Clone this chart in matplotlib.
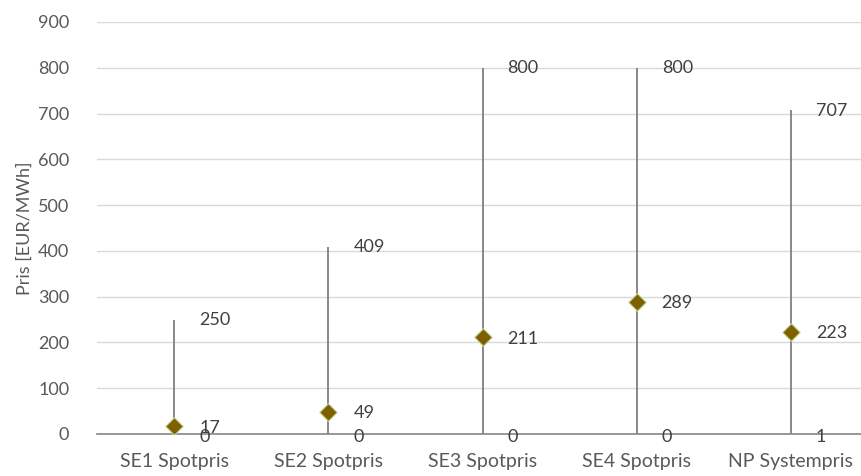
import matplotlib.pyplot as plt
import numpy as np

categories = ["SE1 Spotpris", "SE2 Spotpris", "SE3 Spotpris", "SE4 Spotpris", "NP Systempris"]
high = [250, 409, 800, 800, 707]
low = [0, 0, 0, 0, 1]
close = [17, 49, 211, 289, 223]

TEXT = "#595959"
LABEL = "#404040"
plt.rcParams["font.family"] = ["Lato", "DejaVu Sans"]


def main() -> None:
    fig = plt.figure(figsize=(8.61, 4.76), dpi=100)
    # plot area runs slightly past the right edge of the figure
    ax = fig.add_axes([97 / 861, 1 - 434 / 476, 771 / 861, 412 / 476])
    x = np.arange(len(categories))

    ax.vlines(x, low, high, color="#7f7f7f", lw=1.3, zorder=2)
    ax.scatter(x, close, marker="D", s=80, color="#7f6000",
               edgecolors="#c5d99a", linewidths=0.8, zorder=3)

    for xi, h, l, c in zip(x, high, low, close):
        ax.annotate(f"{h}", (xi, h), xytext=(18, -0.5), textcoords="offset points",
                    fontsize=13, color=LABEL, va="center")
        ax.annotate(f"{c}", (xi, c), xytext=(18, -1), textcoords="offset points",
                    fontsize=13, color=LABEL, va="center")
        ax.annotate(f"{l}", (xi, l), xytext=(18, -2.5), textcoords="offset points",
                    fontsize=13, color=LABEL, va="center")

    ax.set_xlim(-0.5, len(categories) - 0.5)
    ax.set_ylim(0, 900)
    ax.set_yticks(np.arange(0, 901, 100))
    ax.set_xticks(x)
    ax.set_xticklabels(categories)
    ax.tick_params(axis="both", length=0, colors=TEXT)
    ax.tick_params(axis="y", pad=20, labelsize=13)
    ax.tick_params(axis="x", pad=14, labelsize=14)
    ax.grid(axis="y", color="#d9d9d9", lw=1)
    ax.set_axisbelow(True)
    for side in ("top", "right", "left"):
        ax.spines[side].set_visible(False)
    ax.spines["bottom"].set_color("#868686")
    ax.spines["bottom"].set_linewidth(1.2)
    ax.set_ylabel("Pris [EUR/MWh]", fontsize=13, color=TEXT, labelpad=4)

    fig.savefig("out.png", dpi=100)
    plt.close(fig)


if __name__ == "__main__":
    main()
